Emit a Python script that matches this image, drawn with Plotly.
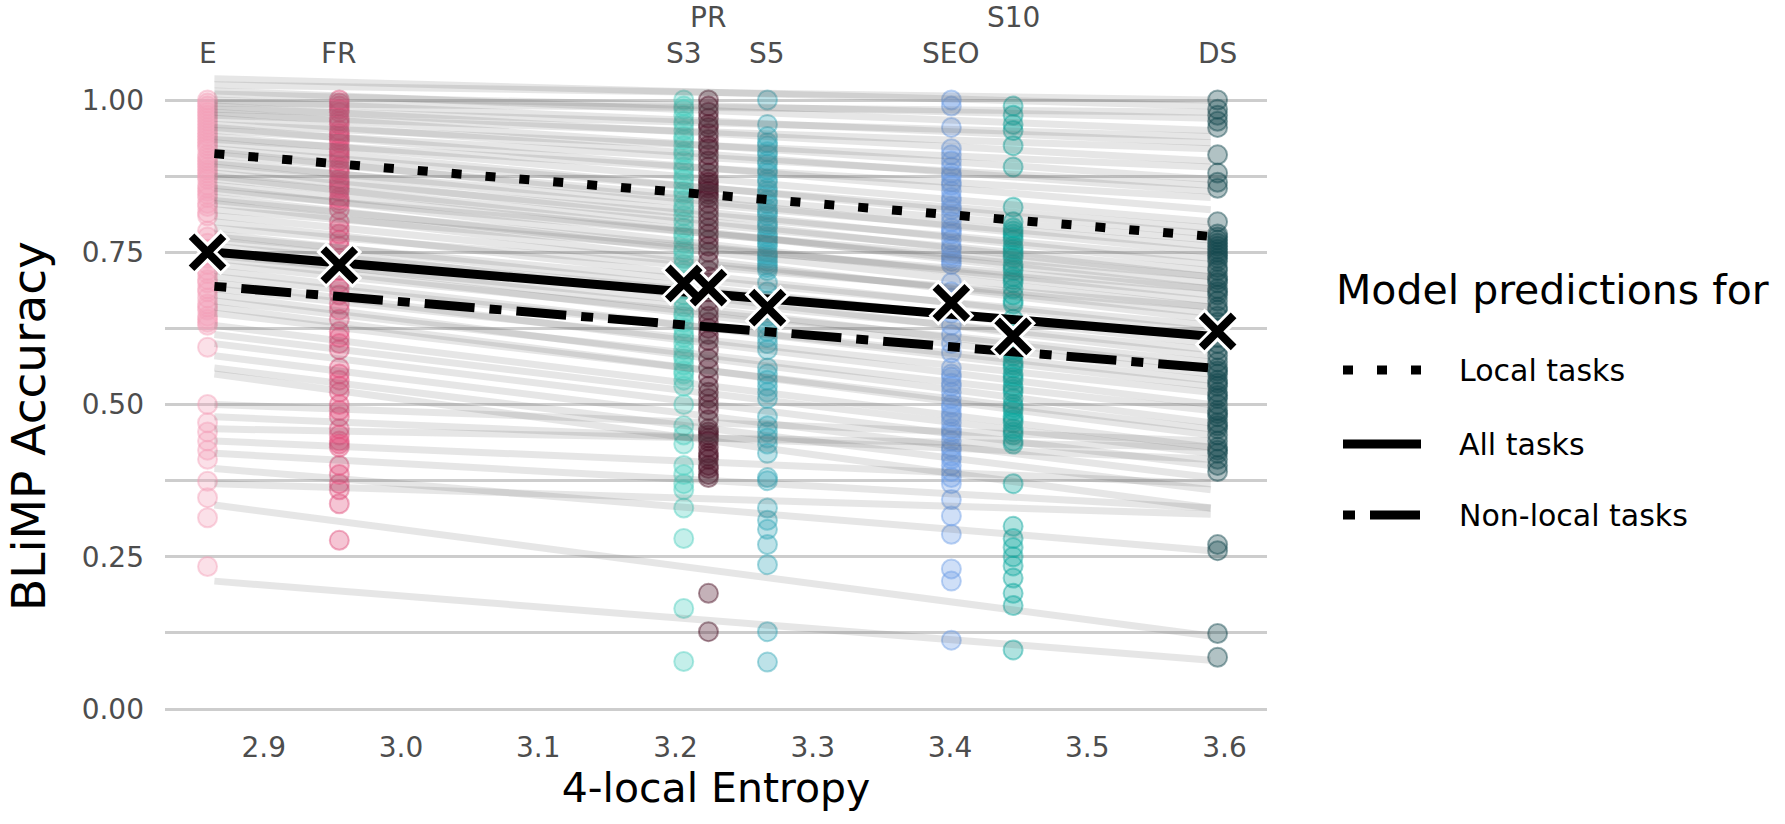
import plotly.graph_objects as go

# ---------------- data ----------------
models = ["E", "FR", "S3", "PR", "S5", "SEO", "S10", "DS"]
entropy = [2.859, 2.955, 3.206, 3.224, 3.267, 3.401, 3.446, 3.595]
colors = ["#F4A0B8", "#E0507C", "#4DCFBE", "#4B1226", "#38A8B8", "#6C9EE6", "#0CA69E", "#12464D"]
label_row = [0, 0, 0, 1, 0, 0, 1, 0]  # 1 = raised label

acc_E = [1.00, 0.995, 0.99, 0.985, 0.98, 0.975, 0.97, 0.965, 0.96, 0.955, 0.95, 0.945, 0.94, 0.935,
         0.93, 0.925, 0.92, 0.91, 0.905, 0.90, 0.895, 0.89, 0.885, 0.88, 0.875, 0.87, 0.86, 0.855,
         0.85, 0.845, 0.84, 0.83, 0.825, 0.815, 0.81, 0.785, 0.775, 0.765, 0.755, 0.745, 0.74, 0.73,
         0.72, 0.715, 0.705, 0.70, 0.69, 0.685, 0.675, 0.665, 0.66, 0.655, 0.645, 0.64, 0.635, 0.63,
         0.594, 0.50, 0.47, 0.455, 0.44, 0.425, 0.41, 0.374, 0.347, 0.314, 0.234]
acc_FR = [1.00, 0.995, 0.99, 0.985, 0.98, 0.97, 0.965, 0.96, 0.95, 0.945, 0.94, 0.935, 0.93, 0.92,
          0.915, 0.91, 0.905, 0.90, 0.89, 0.885, 0.88, 0.87, 0.865, 0.86, 0.855, 0.85, 0.84, 0.835,
          0.83, 0.82, 0.80, 0.79, 0.78, 0.77, 0.76, 0.74, 0.73, 0.72, 0.70, 0.69, 0.68, 0.665, 0.655,
          0.64, 0.62, 0.61, 0.60, 0.59, 0.56, 0.55, 0.54, 0.53, 0.52, 0.50, 0.49, 0.48, 0.46, 0.45,
          0.44, 0.435, 0.43, 0.40, 0.385, 0.37, 0.36, 0.337, 0.277]
acc_S3 = [1.0, 0.99, 0.985, 0.975, 0.965, 0.96, 0.95, 0.94, 0.935, 0.925, 0.915, 0.91, 0.90, 0.89,
          0.885, 0.875, 0.87, 0.86, 0.85, 0.845, 0.835, 0.825, 0.82, 0.81, 0.80, 0.79, 0.78, 0.775,
          0.765, 0.755, 0.75, 0.74, 0.73, 0.72, 0.715, 0.70, 0.69, 0.68, 0.67, 0.66, 0.65, 0.645,
          0.635, 0.625, 0.615, 0.61, 0.60, 0.59, 0.58, 0.575, 0.565, 0.555, 0.55, 0.54, 0.53,
          0.50, 0.465, 0.45, 0.435, 0.40, 0.385, 0.37, 0.36, 0.33, 0.28, 0.165, 0.078]
acc_PR = [1.0, 0.99, 0.98, 0.97, 0.96, 0.955, 0.945, 0.935, 0.925, 0.92, 0.91, 0.90, 0.89, 0.88,
          0.87, 0.865, 0.86, 0.855, 0.85, 0.845, 0.84, 0.83, 0.82, 0.81, 0.80, 0.79, 0.78, 0.77,
          0.76, 0.75, 0.735, 0.72, 0.71, 0.70, 0.685, 0.67, 0.655, 0.645, 0.635, 0.625, 0.615,
          0.605, 0.59, 0.575, 0.56, 0.545, 0.53, 0.52, 0.51, 0.50, 0.49, 0.475, 0.46, 0.455, 0.45,
          0.445, 0.44, 0.43, 0.42, 0.415, 0.41, 0.40, 0.395, 0.385, 0.38, 0.19, 0.127]
acc_S5 = [1.0, 0.96, 0.94, 0.93, 0.925, 0.915, 0.91, 0.90, 0.895, 0.885, 0.88, 0.87, 0.865, 0.855,
          0.85, 0.845, 0.835, 0.83, 0.82, 0.815, 0.81, 0.80, 0.795, 0.79, 0.78, 0.775, 0.77, 0.765,
          0.76, 0.75, 0.745, 0.74, 0.735, 0.73, 0.725, 0.72, 0.70, 0.685, 0.67, 0.655, 0.645, 0.63,
          0.62, 0.61, 0.60, 0.59, 0.56, 0.55, 0.54, 0.53, 0.52, 0.51, 0.48, 0.465, 0.455, 0.445,
          0.435, 0.42, 0.38, 0.375, 0.33, 0.31, 0.295, 0.27, 0.237, 0.127, 0.077]
acc_SEO = [1.0, 0.99, 0.955, 0.92, 0.91, 0.90, 0.89, 0.88, 0.875, 0.865, 0.86, 0.85, 0.84, 0.835,
           0.825, 0.82, 0.81, 0.80, 0.79, 0.785, 0.78, 0.77, 0.76, 0.755, 0.745, 0.74, 0.735, 0.73,
           0.70, 0.685, 0.675, 0.66, 0.65, 0.63, 0.615, 0.60, 0.585, 0.56, 0.55, 0.545, 0.535, 0.53,
           0.52, 0.51, 0.50, 0.495, 0.485, 0.48, 0.47, 0.46, 0.455, 0.45, 0.44, 0.43, 0.425, 0.415,
           0.41, 0.40, 0.39, 0.38, 0.37, 0.344, 0.317, 0.287, 0.23, 0.21, 0.113]
acc_S10 = [0.99, 0.975, 0.96, 0.95, 0.925, 0.89, 0.824, 0.80, 0.79, 0.785, 0.78, 0.775, 0.77, 0.76,
           0.755, 0.75, 0.745, 0.74, 0.73, 0.725, 0.72, 0.71, 0.705, 0.70, 0.69, 0.68, 0.67, 0.665,
           0.64, 0.63, 0.62, 0.61, 0.60, 0.59, 0.585, 0.58, 0.57, 0.565, 0.56, 0.55, 0.545, 0.54,
           0.53, 0.525, 0.52, 0.51, 0.50, 0.495, 0.49, 0.48, 0.475, 0.47, 0.46, 0.455, 0.45, 0.44,
           0.435, 0.37, 0.30, 0.28, 0.265, 0.25, 0.235, 0.215, 0.19, 0.17, 0.097]
acc_DS = [1.0, 0.985, 0.975, 0.965, 0.955, 0.91, 0.88, 0.865, 0.855, 0.80, 0.78, 0.775, 0.77, 0.765,
          0.76, 0.755, 0.75, 0.745, 0.74, 0.735, 0.725, 0.72, 0.71, 0.705, 0.70, 0.69, 0.685, 0.68,
          0.67, 0.66, 0.655, 0.645, 0.635, 0.625, 0.61, 0.60, 0.59, 0.58, 0.57, 0.56, 0.555, 0.55,
          0.54, 0.535, 0.53, 0.52, 0.515, 0.51, 0.50, 0.49, 0.485, 0.48, 0.47, 0.465, 0.46, 0.45,
          0.44, 0.43, 0.425, 0.42, 0.41, 0.40, 0.39, 0.27, 0.26, 0.124, 0.085]
accuracies = [acc_E, acc_FR, acc_S3, acc_PR, acc_S5, acc_SEO, acc_S10, acc_DS]

# mean accuracy per model (X markers)
mean_acc = [0.750, 0.729, 0.699, 0.692, 0.659, 0.667, 0.612, 0.620]

# per-task model predictions (grey lines): value at low / high entropy end
line_x = [2.864, 3.590]
task_start = [1.035, 1.025, 1.015, 1.01, 1.0, 0.995, 0.99, 0.985, 0.98, 0.975, 0.97, 0.96, 0.955,
              0.95, 0.94, 0.935, 0.93, 0.92, 0.915, 0.91, 0.90, 0.895, 0.89, 0.88, 0.875, 0.87,
              0.86, 0.855, 0.85, 0.84, 0.835, 0.83, 0.82, 0.81, 0.80, 0.79, 0.78, 0.775, 0.77,
              0.76, 0.75, 0.745, 0.74, 0.73, 0.72, 0.71, 0.70, 0.69, 0.68, 0.67, 0.66, 0.65, 0.63,
              0.615, 0.60, 0.58, 0.56, 0.55, 0.50, 0.48, 0.46, 0.44, 0.42, 0.395, 0.37, 0.335, 0.21]
task_end = [0.99, 1.0, 0.95, 0.97, 0.93, 0.98, 0.90, 0.94, 0.87, 0.92, 0.85, 0.89, 0.82,
            0.86, 0.80, 0.84, 0.78, 0.79, 0.75, 0.77, 0.73, 0.76, 0.71, 0.74, 0.69, 0.72,
            0.70, 0.67, 0.71, 0.66, 0.68, 0.64, 0.69, 0.65, 0.62, 0.66, 0.60, 0.63, 0.58,
            0.61, 0.56, 0.59, 0.55, 0.57, 0.53, 0.54, 0.50, 0.52, 0.47, 0.49, 0.45, 0.46, 0.43,
            0.42, 0.40, 0.38, 0.36, 0.33, 0.44, 0.41, 0.43, 0.37, 0.33, 0.26, 0.32, 0.12, 0.08]

# overall model predictions
pred_names = ["Local tasks", "All tasks", "Non-local tasks"]
pred_start = [0.912, 0.750, 0.694]
pred_end = [0.776, 0.612, 0.560]
pred_dash = ["10px,24px", "solid", "12px,15px,50px,15px"]

# ---------------- figure ----------------
FONT = "DejaVu Sans"
fig = go.Figure()


def rgba(hexc, a):
    h = hexc.lstrip("#")
    r, g, b = int(h[0:2], 16), int(h[2:4], 16), int(h[4:6], 16)
    return f"rgba({r},{g},{b},{a})"


for name, x, col, acc in zip(models, entropy, colors, accuracies):
    fig.add_trace(go.Scatter(
        x=[x] * len(acc), y=acc, mode="markers", name=name, showlegend=False,
        marker=dict(size=19, color=rgba(col, 0.33),
                    line=dict(color=rgba(col, 0.45), width=2)),
        hoverinfo="skip"))

for s, e in zip(task_start, task_end):
    fig.add_trace(go.Scatter(
        x=line_x, y=[s, e], mode="lines", showlegend=False,
        line=dict(color="rgba(90,90,90,0.15)", width=7), hoverinfo="skip"))

for nm, s, e, d in zip(pred_names, pred_start, pred_end, pred_dash):
    fig.add_trace(go.Scatter(
        x=line_x, y=[s, e], mode="lines", name=nm, showlegend=False,
        line=dict(color="black", width=9, dash=d)))

# mean markers: black X with white outline (white thick X under a black one)
fig.add_trace(go.Scatter(
    x=entropy, y=mean_acc, mode="markers", showlegend=False, name="mean outline",
    hoverinfo="skip",
    marker=dict(symbol="x-thin", size=36, line=dict(color="white", width=14))))
fig.add_trace(go.Scatter(
    x=entropy, y=mean_acc, mode="markers", showlegend=False, name="mean",
    marker=dict(symbol="x-thin", size=32, line=dict(color="black", width=8))))

# top labels
for name, x, row in zip(models, entropy, label_row):
    fig.add_annotation(x=x, y=1, xref="x", yref="paper", text=name, showarrow=False,
                       yanchor="middle", yshift=17 + 36 * row,
                       font=dict(family=FONT, size=28, color="#4D4D4D"))

# manual legend
L, W = 165, 1102
T, H = 70, 651


def px(xp):
    return (xp - L) / W


def py(yp):
    return (T + H - yp) / H


fig.add_annotation(x=px(1334), y=py(290), xref="paper", yref="paper", text="Model predictions for",
                   showarrow=False, xanchor="left", yanchor="middle",
                   font=dict(family=FONT, size=41, color="black"))
for i, (nm, d) in enumerate(zip(pred_names, pred_dash)):
    yy = py([370, 444, 515][i])
    fig.add_shape(type="line", xref="paper", yref="paper", x0=px(1343), x1=px(1421), y0=yy, y1=yy,
                  line=dict(color="black", width=9, dash=d))
    fig.add_annotation(x=px(1457), y=yy, xref="paper", yref="paper", text=nm, showarrow=False,
                       xanchor="left", yanchor="middle",
                       font=dict(family=FONT, size=30, color="black"))

# y-axis title placed like the reference (centred lower than the panel)
fig.add_annotation(x=px(29), y=py(426), xref="paper", yref="paper", text="BLiMP Accuracy",
                   textangle=-90, showarrow=False, xanchor="center", yanchor="middle",
                   font=dict(family=FONT, size=47, color="black"))

grid = "#CDCDCD"
fig.update_layout(
    width=1785, height=824,
    margin=dict(l=L, r=1785 - L - W, t=T, b=824 - T - H),
    paper_bgcolor="white", plot_bgcolor="white",
    font=dict(family=FONT),
    xaxis=dict(range=[2.828, 3.631], tickvals=[2.9, 3.0, 3.1, 3.2, 3.3, 3.4, 3.5, 3.6],
               ticktext=["2.9", "3.0", "3.1", "3.2", "3.3", "3.4", "3.5", "3.6"],
               showgrid=False, zeroline=False, showline=False, ticks="",
               ticklabelstandoff=7,
               tickfont=dict(family=FONT, size=28, color="#4D4D4D"),
               title=dict(text="4-local Entropy", standoff=10,
                          font=dict(family=FONT, size=41, color="black"))),
    yaxis=dict(range=[-0.0197, 1.0493], tickvals=[0, 0.25, 0.5, 0.75, 1.0],
               ticktext=["0.00", "0.25", "0.50", "0.75", "1.00"],
               showgrid=True, gridcolor=grid, gridwidth=3, zeroline=False, showline=False,
               ticks="", ticklabelstandoff=20,
               minor=dict(dtick=0.125, showgrid=True, gridcolor=grid, gridwidth=3),
               tickfont=dict(family=FONT, size=28, color="#4D4D4D")),
)

fig.write_html("out.html")
